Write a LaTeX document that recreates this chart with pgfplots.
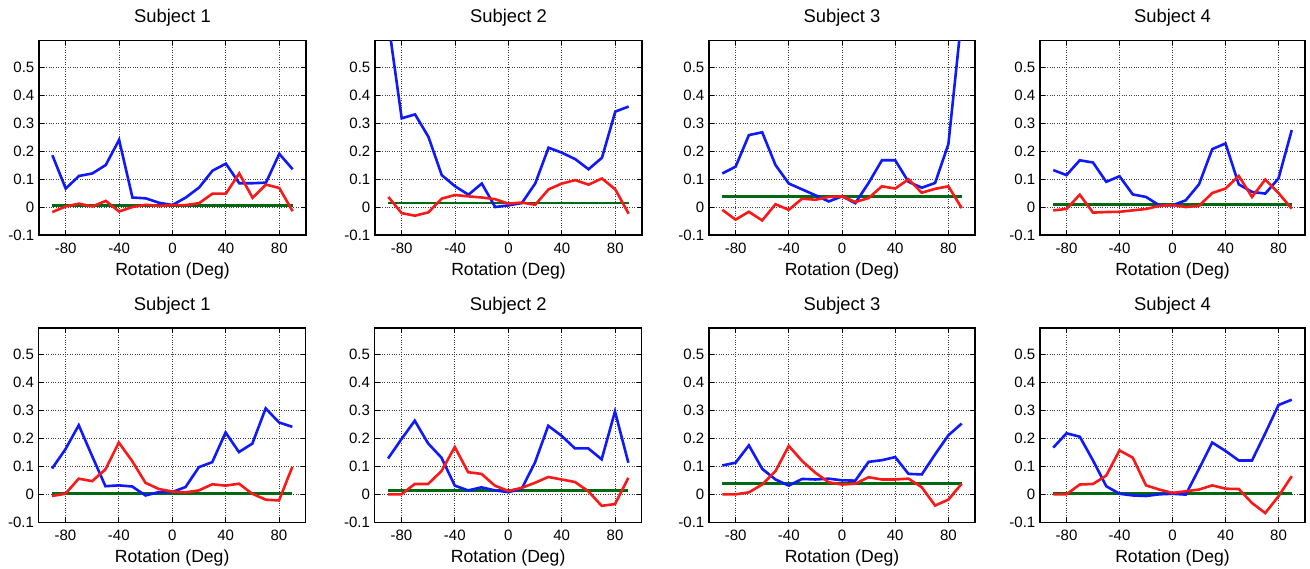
\documentclass[border=0pt]{standalone}
\usepackage{fontspec}
\setmainfont{Liberation Sans}
\usepackage{pgfplots}
\pgfplotsset{compat=1.18}
\usepackage{pgfplotstable}

\definecolor{mblue}{RGB}{15,25,250}
\definecolor{mred}{RGB}{250,25,25}
\definecolor{mgreen}{RGB}{0,105,20}

% x blue red
\pgfplotstableread{
x b r
-90 0.185 -0.018
-80 0.066 0.002
-70 0.111 0.012
-60 0.120 0.002
-50 0.150 0.022
-40 0.240 -0.016
-30 0.034 0.000
-20 0.031 0.008
-10 0.015 0.004
0 0.007 0.007
10 0.034 0.007
20 0.070 0.014
30 0.130 0.048
40 0.155 0.048
50 0.085 0.120
60 0.085 0.033
70 0.087 0.080
80 0.190 0.068
90 0.135 -0.015
}\tA
\pgfplotstableread{
x b r
-90 0.660 0.036
-80 0.317 -0.022
-70 0.331 -0.031
-60 0.251 -0.019
-50 0.114 0.030
-40 0.074 0.043
-30 0.044 0.038
-20 0.084 0.034
-10 0.000 0.028
0 0.006 0.012
10 0.014 0.016
20 0.084 0.008
30 0.212 0.063
40 0.194 0.084
50 0.171 0.096
60 0.135 0.080
70 0.176 0.102
80 0.341 0.063
90 0.359 -0.024
}\tB
\pgfplotstableread{
x b r
-90 0.120 -0.010
-80 0.144 -0.045
-70 0.257 -0.017
-60 0.267 -0.048
-50 0.150 0.010
-40 0.084 -0.010
-30 0.063 0.030
-20 0.042 0.026
-10 0.020 0.036
0 0.038 0.038
10 0.014 0.018
20 0.086 0.032
30 0.167 0.074
40 0.167 0.066
50 0.090 0.099
60 0.069 0.051
70 0.086 0.065
80 0.225 0.074
90 0.680 -0.004
}\tC
\pgfplotstableread{
x b r
-90 0.132 -0.012
-80 0.114 -0.007
-70 0.167 0.044
-60 0.159 -0.020
-50 0.090 -0.018
-40 0.110 -0.017
-30 0.045 -0.012
-20 0.036 -0.007
-10 0.006 0.004
0 0.006 0.007
10 0.024 0.000
20 0.081 0.004
30 0.207 0.050
40 0.227 0.066
50 0.081 0.111
60 0.054 0.036
70 0.048 0.098
80 0.102 0.050
90 0.275 -0.006
}\tD
\pgfplotstableread{
x b r
-90 0.092 -0.006
-80 0.161 0.002
-70 0.247 0.056
-60 0.137 0.047
-50 0.029 0.089
-40 0.032 0.185
-30 0.028 0.119
-20 -0.004 0.041
-10 0.008 0.019
0 0.008 0.010
10 0.026 0.007
20 0.097 0.014
30 0.115 0.036
40 0.221 0.031
50 0.151 0.038
60 0.181 0.002
70 0.307 -0.019
80 0.257 -0.022
90 0.241 0.098
}\tE
\pgfplotstableread{
x b r
-90 0.128 0.000
-80 0.197 0.000
-70 0.263 0.037
-60 0.182 0.037
-50 0.131 0.083
-40 0.031 0.169
-30 0.014 0.079
-20 0.025 0.073
-10 0.014 0.031
0 0.008 0.012
10 0.019 0.023
20 0.113 0.041
30 0.245 0.062
40 0.209 0.053
50 0.164 0.044
60 0.164 0.011
70 0.125 -0.041
80 0.296 -0.035
90 0.113 0.059
}\tF
\pgfplotstableread{
x b r
-90 0.103 0.000
-80 0.113 0.000
-70 0.175 0.007
-60 0.091 0.035
-50 0.053 0.083
-40 0.031 0.173
-30 0.055 0.119
-20 0.053 0.077
-10 0.056 0.043
0 0.050 0.035
10 0.049 0.038
20 0.116 0.061
30 0.122 0.053
40 0.133 0.053
50 0.073 0.056
60 0.071 0.025
70 0.143 -0.040
80 0.211 -0.019
90 0.253 0.038
}\tG
\pgfplotstableread{
x b r
-90 0.167 0.000
-80 0.218 0.000
-70 0.206 0.035
-60 0.121 0.037
-50 0.029 0.067
-40 0.002 0.157
-30 -0.004 0.131
-20 -0.006 0.032
-10 0.000 0.017
0 0.002 0.005
10 -0.001 0.011
20 0.091 0.017
30 0.185 0.032
40 0.155 0.020
50 0.121 0.019
60 0.121 -0.031
70 0.218 -0.067
80 0.319 -0.007
90 0.338 0.065
}\tH

\pgfplotsset{
 subj/.style={
  scale only axis, height=194.5pt,
  xmin=-100, xmax=100, ymin=-0.1, ymax=0.595,
  xtick={-80,-40,0,40,80}, ytick={-0.1,0,0.1,0.2,0.3,0.4,0.5},
  /pgf/number format/assume math mode=true,
  yticklabel style={/pgf/number format/fixed, /pgf/number format/precision=1, anchor=east, xshift=-1.2pt},
  xticklabel style={anchor=base, yshift=-18pt},
  tick align=inside, major tick length=5pt,
  tick style={black, line width=0.9pt},
  grid=major, major grid style={dotted, black!75, line width=0.9pt},
  axis line style={line width=1.5pt},
  ticklabel style={font=\fontsize{15}{17}\selectfont},
  xlabel={Rotation (Deg)},
  xlabel style={at={(0.5,0)}, anchor=base, yshift=-40.5pt, font=\fontsize{17.6}{20}\selectfont},
  title style={at={(0.5,1)}, anchor=base, yshift=11.5pt, font=\fontsize{18.4}{21}\selectfont},
  anchor=south west,
 },
 bl/.style={mblue, line width=2.6pt},
 rd/.style={mred, line width=2.6pt},
 gr/.style={mgreen, line width=2.6pt},
}

\begin{document}
\begin{tikzpicture}
\path[use as bounding box] (0,0) rectangle (1310pt,-568pt);
\begin{axis}[subj, at={(39pt,-235pt)}, width=267pt, title={Subject 1}]
\addplot[gr] coordinates {(-90,0.006) (90,0.006)};
\addplot[bl] table[x=x,y=b] {\tA};
\addplot[rd] table[x=x,y=r] {\tA};
\end{axis}
\begin{axis}[subj, at={(375pt,-235pt)}, width=267pt, title={Subject 2}]
\addplot[gr] coordinates {(-90,0.014) (90,0.014)};
\addplot[bl] table[x=x,y=b] {\tB};
\addplot[rd] table[x=x,y=r] {\tB};
\end{axis}
\begin{axis}[subj, at={(709pt,-235pt)}, width=266pt, title={Subject 3}]
\addplot[gr] coordinates {(-90,0.038) (90,0.038)};
\addplot[bl] table[x=x,y=b] {\tC};
\addplot[rd] table[x=x,y=r] {\tC};
\end{axis}
\begin{axis}[subj, at={(1040pt,-235pt)}, width=265pt, title={Subject 4}]
\addplot[gr] coordinates {(-90,0.008) (90,0.008)};
\addplot[bl] table[x=x,y=b] {\tD};
\addplot[rd] table[x=x,y=r] {\tD};
\end{axis}
\begin{axis}[subj, at={(38.7pt,-522.3pt)}, width=267pt, title={Subject 1}]
\addplot[gr] coordinates {(-90,0.004) (90,0.004)};
\addplot[bl] table[x=x,y=b] {\tE};
\addplot[rd] table[x=x,y=r] {\tE};
\end{axis}
\begin{axis}[subj, at={(374.7pt,-522.3pt)}, width=267pt, title={Subject 2}]
\addplot[gr] coordinates {(-90,0.013) (90,0.013)};
\addplot[bl] table[x=x,y=b] {\tF};
\addplot[rd] table[x=x,y=r] {\tF};
\end{axis}
\begin{axis}[subj, at={(709pt,-522.3pt)}, width=266pt, title={Subject 3}]
\addplot[gr] coordinates {(-90,0.038) (90,0.038)};
\addplot[bl] table[x=x,y=b] {\tG};
\addplot[rd] table[x=x,y=r] {\tG};
\end{axis}
\begin{axis}[subj, at={(1040pt,-522.3pt)}, width=265pt, title={Subject 4}]
\addplot[gr] coordinates {(-90,0.004) (90,0.004)};
\addplot[bl] table[x=x,y=b] {\tH};
\addplot[rd] table[x=x,y=r] {\tH};
\end{axis}
\end{tikzpicture}
\end{document}
